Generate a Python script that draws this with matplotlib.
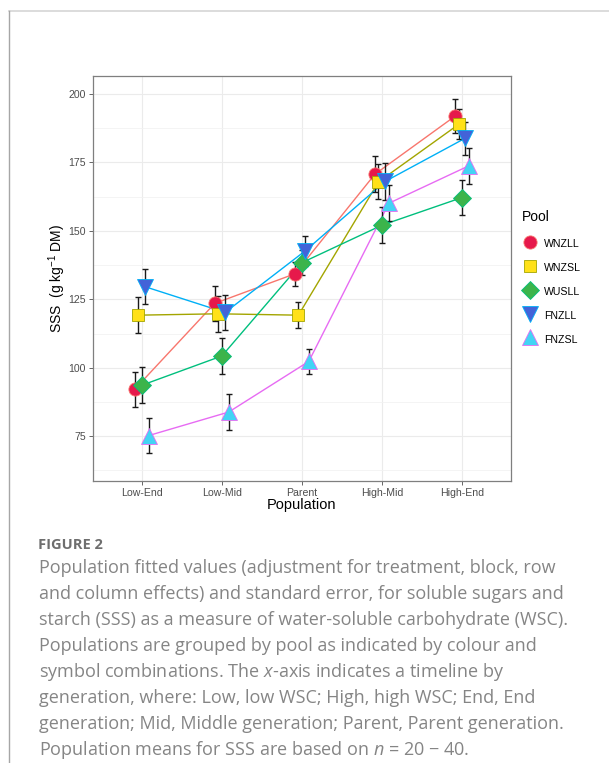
import matplotlib
matplotlib.use("Agg")
import matplotlib.pyplot as plt
from matplotlib.lines import Line2D
import numpy as np

plt.rcParams['font.family'] = ['Liberation Sans', 'DejaVu Sans']
plt.rcParams['mathtext.fontset'] = 'custom'
plt.rcParams['mathtext.rm'] = 'Liberation Sans'
plt.rcParams['mathtext.it'] = 'Open Sans:italic'

# data
populations = ["Low-End", "Low-Mid", "Parent", "High-Mid", "High-End"]
pools = ["WNZLL", "WNZSL", "WUSLL", "FNZLL", "FNZSL"]

wnzll = [92.1, 123.5, 134.3, 170.7, 191.9]
wnzsl = [119.2, 119.7, 119.2, 167.9, 188.9]
wusll = [93.6, 104.3, 138.4, 152.1, 162.2]
fnzll = [129.6, 120.2, 142.7, 168.1, 183.9]
fnzsl = [75.2, 83.8, 102.3, 160.1, 173.8]

wnzll_se = [6.5, 6.5, 4.4, 6.5, 6.3]
wnzsl_se = [6.6, 6.5, 4.7, 6.4, 5.5]
wusll_se = [6.6, 6.5, 4.5, 6.6, 6.4]
fnzll_se = [6.5, 6.5, 5.6, 6.8, 6.0]
fnzsl_se = [6.5, 6.5, 4.7, 6.6, 6.5]

means = [wnzll, wnzsl, wusll, fnzll, fnzsl]
errors = [wnzll_se, wnzsl_se, wusll_se, fnzll_se, fnzsl_se]

fills = ["#e6194B", "#ffe119", "#3cb44b", "#4363d8", "#42d4f4"]
lines = ["#F8766D", "#A3A500", "#00BF7D", "#00B0F6", "#E76BF3"]
markers = ["o", "s", "D", "v", "^"]
msizes = [9.5, 8.5, 9, 11, 11]
dodge = [-0.09, -0.045, 0.0, 0.04, 0.085]

fig = plt.figure(figsize=(6.09, 7.63), dpi=100)
ax = fig.add_axes([93/609, 1-481/763, 418/609, 405/763])

x = np.arange(len(populations))
for i in range(len(pools)):
    xs = x + dodge[i]
    ax.plot(xs, means[i], color=lines[i], lw=1.0, zorder=2)
    ax.errorbar(xs, means[i], yerr=errors[i], fmt='none', ecolor='#1a1a1a',
                elinewidth=1.0, capsize=2.2, capthick=1.0, zorder=3)
for i in range(len(pools)):
    xs = x + dodge[i]
    ax.plot(xs, means[i], linestyle='none', marker=markers[i], ms=msizes[i],
            mfc=fills[i], mec=lines[i], mew=0.6, zorder=4 + i)

ax.set_xlim(-0.61, 4.61)
ax.set_ylim(58.6, 206.6)
ax.set_xticks(x)
ax.set_xticklabels(populations)
ax.set_yticks([75, 100, 125, 150, 175, 200])
ax.set_yticks([62.5, 87.5, 112.5, 137.5, 162.5, 187.5], minor=True)
ax.tick_params(axis='both', which='major', labelsize=7.6, labelcolor='#4D4D4D',
               color='#4D4D4D', length=3, width=0.6, pad=2)
ax.tick_params(axis='y', which='minor', length=0)
ax.grid(True, which='major', color='#EBEBEB', lw=0.8)
ax.grid(True, which='minor', axis='y', color='#F2F2F2', lw=0.6)
ax.set_axisbelow(True)
for s in ax.spines.values():
    s.set_color('#7f7f7f')
    s.set_linewidth(0.9)

ax.set_xlabel("Population", fontsize=10.5, labelpad=0)
ax.set_ylabel(r"SSS  (g kg$^{-1}$ DM)", fontsize=10)
ax.yaxis.set_label_coords(-0.06, 0.5)

handles = [Line2D([], [], linestyle='none', marker=markers[i], ms=msizes[i],
                  mfc=fills[i], mec=lines[i], mew=0.6) for i in range(len(pools))]
leg = fig.legend(handles, pools, loc='upper left', bbox_to_anchor=(518/609, 1-206/763),
                 frameon=False, title="Pool", fontsize=7.6, title_fontsize=10,
                 alignment='left', handlelength=1.4, handleheight=1.6,
                 labelspacing=0.98, handletextpad=0.7, borderaxespad=0)
leg._legend_box.sep = 9

# page decoration
fig.add_artist(Line2D([9/609, 1], [1-11/763, 1-11/763], color='#d6d6d6', lw=1.2))
fig.add_artist(Line2D([9/609, 9/609], [0, 1-11/763], color='#a6a6a6', lw=1.0))

fig.text(38/609, 1-545/763, "FIGURE 2", fontsize=10.5, color='#6e6e6e',
         fontweight='bold', family='Open Sans', va='center')
caption = [
    "Population fitted values (adjustment for treatment, block, row",
    "and column effects) and standard error, for soluble sugars and",
    "starch (SSS) as a measure of water-soluble carbohydrate (WSC).",
    "Populations are grouped by pool as indicated by colour and",
    "symbol combinations. The $x$-axis indicates a timeline by",
    "generation, where: Low, low WSC; High, high WSC; End, End",
    "generation; Mid, Middle generation; Parent, Parent generation.",
    "Population means for SSS are based on $n$ = 20 \u2212 40.",
]
for k, line in enumerate(caption):
    fig.text(39/609, 1-(568 + 26.0*k)/763, line, fontsize=13.0, color='#858585',
             family='Open Sans', va='center')

fig.savefig("out.png", dpi=100)
